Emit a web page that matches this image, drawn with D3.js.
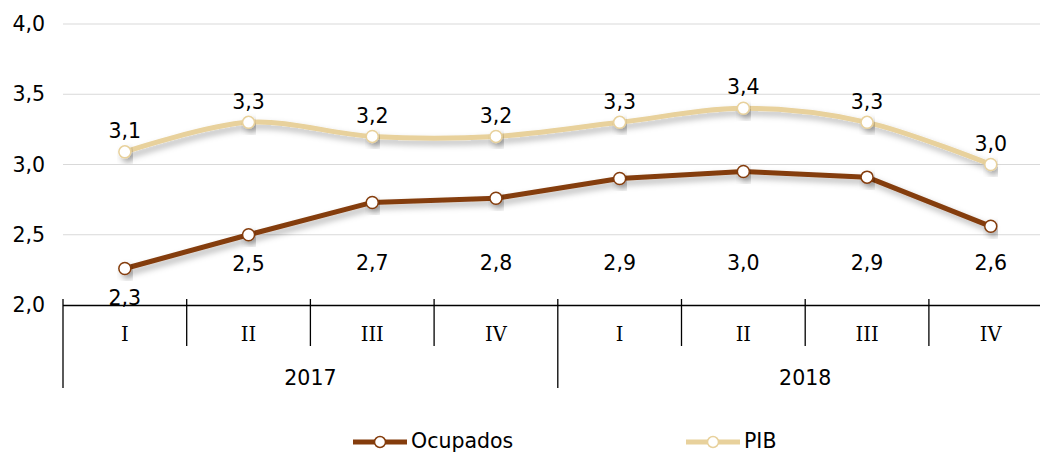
<!DOCTYPE html>
<meta charset="utf-8">
<head>
<script src="https://d3js.org/d3.v7.min.js"></script>
<style>
    body { margin: 0; background: #fff; }
    .grid line { stroke: #d9d9d9; stroke-width: 1px; }
    .ytick { font-family: "DejaVu Sans", Verdana, sans-serif; font-size: 20.5px; fill: #000; }
    .vlabel { font-family: "DejaVu Sans", Verdana, sans-serif; font-size: 20.5px; fill: #000; }
    .quarter { font-family: "DejaVu Serif", "Liberation Serif", serif; font-size: 19.5px; fill: #000; }
    .year { font-family: "DejaVu Sans", Verdana, sans-serif; font-size: 20.5px; fill: #000; }
    .legend text { font-family: "DejaVu Sans", Verdana, sans-serif; font-size: 20.5px; fill: #000; }
</style>
</head>
<body>
<svg id="chart" width="1040" height="455"></svg>

<script>
    // quarters and years
    var quarters = ["I", "II", "III", "IV", "I", "II", "III", "IV"];
    var years = ["2017", "2018"];

    // series values
    var ocupados = [2.26, 2.50, 2.73, 2.76, 2.90, 2.95, 2.91, 2.56];
    var pib = [3.09, 3.30, 3.20, 3.20, 3.30, 3.40, 3.30, 3.00];

    // value labels as printed
    var ocupadosLabels = ["2,3", "2,5", "2,7", "2,8", "2,9", "3,0", "2,9", "2,6"];
    var pibLabels = ["3,1", "3,3", "3,2", "3,2", "3,3", "3,4", "3,3", "3,0"];

    var yTicks = [2.0, 2.5, 3.0, 3.5, 4.0];

    var svg = d3.select("#chart");
    var mLeft = 63, mTop = 24, mBottom = 305;
    var step = 123.7;

    var x = d3.scaleBand()
      .domain(d3.range(quarters.length))
      .range([mLeft, mLeft + step * quarters.length])
      .padding(0);

    var y = d3.scaleLinear().domain([2, 4]).range([mBottom, mTop]);

    var fmt = function(v) { return d3.format(".1f")(v).replace(".", ","); };

    // shadow filter
    var defs = svg.append("defs");
    var f = defs.append("filter").attr("id", "shadow")
      .attr("x", "-10%").attr("y", "-30%").attr("width", "120%").attr("height", "180%");
    f.append("feDropShadow")
      .attr("dx", 3).attr("dy", 4).attr("stdDeviation", 3)
      .attr("flood-color", "#000").attr("flood-opacity", 0.3);

    // gridlines
    svg.append("g").attr("class", "grid")
      .selectAll("line")
      .data(yTicks.slice(1))
      .enter().append("line")
      .attr("x1", mLeft).attr("x2", 1040)
      .attr("y1", function(d) { return y(d); })
      .attr("y2", function(d) { return y(d); });

    // y labels
    svg.append("g").selectAll("text")
      .data(yTicks)
      .enter().append("text")
      .attr("class", "ytick")
      .attr("x", 45)
      .attr("y", function(d) { return y(d); })
      .attr("dy", "0.35em")
      .attr("text-anchor", "end")
      .text(fmt);

    // category axis
    var ax = svg.append("g").attr("stroke", "#000").attr("stroke-width", 1.3);
    ax.append("line")
      .attr("x1", mLeft).attr("x2", 1040)
      .attr("y1", mBottom + 0.5).attr("y2", mBottom + 0.5);

    var bounds = d3.range(quarters.length + 1);
    ax.selectAll(".sep")
      .data(bounds)
      .enter().append("line")
      .attr("class", "sep")
      .attr("x1", function(d) { return mLeft + d * step; })
      .attr("x2", function(d) { return mLeft + d * step; })
      .attr("y1", mBottom - 6)
      .attr("y2", function(d) { return d % 4 === 0 ? 388 : 346; });

    svg.append("g").selectAll("text")
      .data(quarters)
      .enter().append("text")
      .attr("class", "quarter")
      .attr("x", function(d, i) { return x(i) + x.bandwidth() / 2; })
      .attr("y", 334)
      .attr("dy", "0.35em")
      .attr("text-anchor", "middle")
      .text(function(d) { return d; });

    svg.append("g").selectAll("text")
      .data(years)
      .enter().append("text")
      .attr("class", "year")
      .attr("x", function(d, i) { return mLeft + (i * 4 + 2) * step; })
      .attr("y", 378)
      .attr("dy", "0.35em")
      .attr("text-anchor", "middle")
      .text(function(d) { return d; });

    // lines: PIB smoothed, Ocupados straight segments
    var cx = function(d, i) { return x(i) + x.bandwidth() / 2; };
    var lineOf = function(curve) {
      return d3.line().x(cx).y(function(d) { return y(d); }).curve(curve);
    };

    var series = [
      { name: "Ocupados", values: ocupados, labels: ocupadosLabels, color: "#843c0c", below: true, curve: d3.curveLinear },
      { name: "PIB", values: pib, labels: pibLabels, color: "#e8d19c", below: false, curve: d3.curveCatmullRom.alpha(0) }
    ];

    series.slice().reverse().forEach(function(s) {
      var g = svg.append("g");
      g.append("path")
        .datum(s.values)
        .attr("d", lineOf(s.curve))
        .attr("fill", "none")
        .attr("stroke", s.color)
        .attr("stroke-width", 5)
        .attr("stroke-linejoin", "round")
        .attr("filter", "url(#shadow)");
      g.selectAll("circle")
        .data(s.values)
        .enter().append("circle")
        .attr("cx", cx)
        .attr("cy", function(d) { return y(d); })
        .attr("r", 6)
        .attr("fill", "#fff")
        .attr("stroke", s.color)
        .attr("stroke-width", 1.5)
        .attr("filter", "url(#shadow)");
      g.selectAll("text")
        .data(s.values)
        .enter().append("text")
        .attr("class", "vlabel")
        .attr("x", cx)
        .attr("y", function(d) {
          // labels of the lower series sit in one row, pushed down when a point is low
          return s.below ? Math.max(y(d) + 29, y(2.3)) : y(d) - 21;
        })
        .attr("dy", "0.35em")
        .attr("text-anchor", "middle")
        .text(function(d, i) { return s.labels[i]; });
    });

    // legend
    var legendX = [353, 686];
    var lg = svg.append("g").attr("class", "legend");
    series.forEach(function(s, i) {
      var g = lg.append("g").attr("transform", "translate(" + legendX[i] + ",442)");
      g.append("line")
        .attr("x1", 0).attr("x2", 54)
        .attr("stroke", s.color).attr("stroke-width", 5);
      g.append("circle")
        .attr("cx", 27).attr("r", 5.5)
        .attr("fill", "#fff").attr("stroke", s.color).attr("stroke-width", 1.5);
      g.append("text")
        .attr("x", 58).attr("dy", "0.3em")
        .text(s.name);
    });
</script>
</body>
